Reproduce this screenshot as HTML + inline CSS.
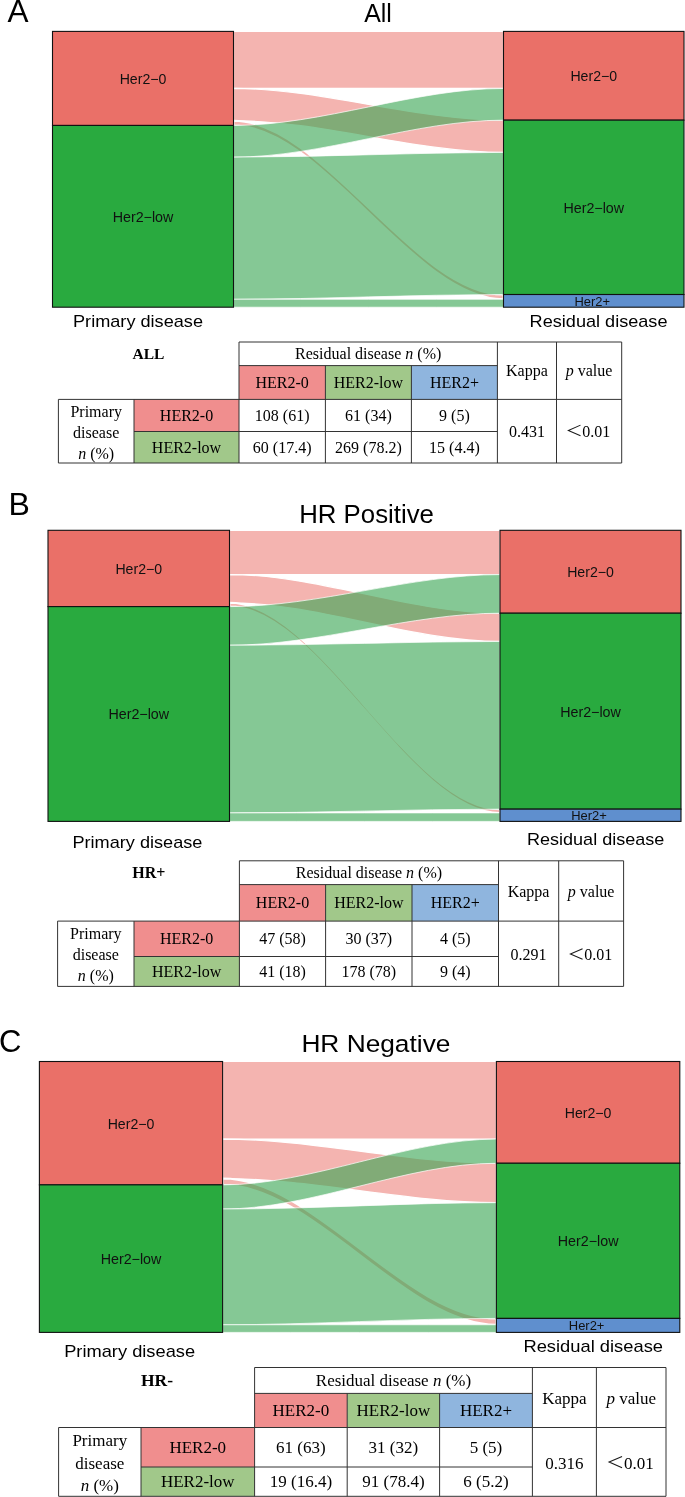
<!DOCTYPE html>
<html><head><meta charset="utf-8"><style>
html,body{margin:0;padding:0;background:#fff;}
body{width:685px;height:1497px;overflow:hidden;}
svg{display:block;will-change:transform;}
</style></head><body>
<svg width="685" height="1497" viewBox="0 0 685 1497">
<rect width="685" height="1497" fill="#fff"/>
<text x="7.5" y="22.2" font-family="Liberation Sans" font-size="31.5" text-anchor="start" font-weight="normal" font-style="normal" fill="#000">A</text>
<text x="378" y="21.6" font-family="Liberation Sans" font-size="25" text-anchor="middle" font-weight="normal" font-style="normal" fill="#000" textLength="27.7" lengthAdjust="spacingAndGlyphs">All</text>
<path d="M233.50,31.40 C322.60,31.40 414.40,31.40 503.50,31.40 L503.50,88.46 C414.40,88.46 322.60,88.46 233.50,88.46 Z" fill="#EA7068" fill-opacity="0.52" stroke="#fff" stroke-width="1.2"/>
<path d="M233.50,88.46 C322.60,88.46 414.40,120.16 503.50,120.16 L503.50,152.39 C414.40,152.39 322.60,120.69 233.50,120.69 Z" fill="#EA7068" fill-opacity="0.52" stroke="#fff" stroke-width="1.2"/>
<path d="M233.50,120.69 C322.60,120.69 414.40,294.52 503.50,294.52 L503.50,299.27 C414.40,299.27 322.60,125.45 233.50,125.45 Z" fill="#EA7068" fill-opacity="0.52" stroke="#fff" stroke-width="2.0"/>
<path d="M233.50,125.45 C322.60,125.45 414.40,88.46 503.50,88.46 L503.50,120.16 C414.40,120.16 322.60,157.15 233.50,157.15 Z" fill="#3AA754" fill-opacity="0.62" stroke="#fff" stroke-width="0.7"/>
<path d="M233.50,157.15 C322.60,157.15 414.40,152.39 503.50,152.39 L503.50,294.52 C414.40,294.52 322.60,299.27 233.50,299.27 Z" fill="#3AA754" fill-opacity="0.62" stroke="#fff" stroke-width="0.7"/>
<path d="M233.50,299.27 C322.60,299.27 414.40,299.27 503.50,299.27 L503.50,307.20 C414.40,307.20 322.60,307.20 233.50,307.20 Z" fill="#3AA754" fill-opacity="0.62" stroke="#fff" stroke-width="0.7"/>
<rect x="52.5" y="31.40" width="181.0" height="94.05" fill="#EA7068" stroke="#111" stroke-width="1.1"/>
<rect x="52.5" y="125.45" width="181.0" height="181.75" fill="#29AA3F" stroke="#111" stroke-width="1.1"/>
<rect x="503.5" y="31.40" width="180.5" height="88.76" fill="#EA7068" stroke="#111" stroke-width="1.1"/>
<rect x="503.5" y="120.16" width="180.5" height="174.36" fill="#29AA3F" stroke="#111" stroke-width="1.1"/>
<rect x="503.5" y="294.52" width="180.5" height="12.68" fill="#5F8FCE" stroke="#111" stroke-width="1.1"/>
<text x="143.0" y="83.8633716475096" font-family="Liberation Sans" font-size="14" text-anchor="middle" font-weight="normal" font-style="normal" fill="#111" textLength="46.7" lengthAdjust="spacingAndGlyphs">Her2−0</text>
<text x="143.0" y="221.7633716475096" font-family="Liberation Sans" font-size="14" text-anchor="middle" font-weight="normal" font-style="normal" fill="#111" textLength="60.7" lengthAdjust="spacingAndGlyphs">Her2−low</text>
<text x="593.75" y="81.22160919540231" font-family="Liberation Sans" font-size="14" text-anchor="middle" font-weight="normal" font-style="normal" fill="#111" textLength="46.7" lengthAdjust="spacingAndGlyphs">Her2−0</text>
<text x="593.75" y="212.78137931034482" font-family="Liberation Sans" font-size="14" text-anchor="middle" font-weight="normal" font-style="normal" fill="#111" textLength="60.7" lengthAdjust="spacingAndGlyphs">Her2−low</text>
<text x="592.25" y="305.8397701149425" font-family="Liberation Sans" font-size="13" text-anchor="middle" font-weight="normal" font-style="normal" fill="#111" textLength="35.6" lengthAdjust="spacingAndGlyphs">Her2+</text>
<text x="73" y="326.6" font-family="Liberation Sans" font-size="17" text-anchor="start" font-weight="normal" font-style="normal" fill="#000" textLength="130" lengthAdjust="spacingAndGlyphs">Primary disease</text>
<text x="529.6" y="326.5" font-family="Liberation Sans" font-size="17" text-anchor="start" font-weight="normal" font-style="normal" fill="#000" textLength="137.9" lengthAdjust="spacingAndGlyphs">Residual disease</text>
<rect x="239" y="365.6" width="86.39999999999998" height="33.799999999999955" fill="#F08E8E"/>
<rect x="325.4" y="365.6" width="86.0" height="33.799999999999955" fill="#A1C88A"/>
<rect x="411.4" y="365.6" width="86.0" height="33.799999999999955" fill="#8FB5DE"/>
<rect x="134" y="399.4" width="105" height="32.10000000000002" fill="#F08E8E"/>
<rect x="134" y="431.5" width="105" height="31.5" fill="#A1C88A"/>
<line x1="239" y1="342" x2="621.7" y2="342" stroke="#333" stroke-width="1"/>
<line x1="239" y1="365.6" x2="497.4" y2="365.6" stroke="#333" stroke-width="1"/>
<line x1="58.4" y1="399.4" x2="621.7" y2="399.4" stroke="#333" stroke-width="1"/>
<line x1="134" y1="431.5" x2="497.4" y2="431.5" stroke="#333" stroke-width="1"/>
<line x1="58.4" y1="463" x2="621.7" y2="463" stroke="#333" stroke-width="1"/>
<line x1="58.4" y1="399.4" x2="58.4" y2="463" stroke="#333" stroke-width="1"/>
<line x1="134" y1="399.4" x2="134" y2="463" stroke="#333" stroke-width="1"/>
<line x1="239" y1="342" x2="239" y2="463" stroke="#333" stroke-width="1"/>
<line x1="325.4" y1="365.6" x2="325.4" y2="463" stroke="#333" stroke-width="1"/>
<line x1="411.4" y1="365.6" x2="411.4" y2="463" stroke="#333" stroke-width="1"/>
<line x1="497.4" y1="342" x2="497.4" y2="463" stroke="#333" stroke-width="1"/>
<line x1="556.5" y1="342" x2="556.5" y2="463" stroke="#333" stroke-width="1"/>
<line x1="621.7" y1="342" x2="621.7" y2="463" stroke="#333" stroke-width="1"/>
<text x="148.5" y="359.1" font-family="Liberation Serif" font-size="15.5" text-anchor="middle" font-weight="bold" font-style="normal" fill="#000">ALL</text>
<text x="368.2" y="359.24" font-family="Liberation Serif" font-size="16" text-anchor="middle">Residual disease <tspan font-style="italic">n</tspan> (%)</text>
<text x="282.2" y="387.94" font-family="Liberation Serif" font-size="16" text-anchor="middle" font-weight="normal" font-style="normal" fill="#000">HER2-0</text>
<text x="368.4" y="387.94" font-family="Liberation Serif" font-size="16" text-anchor="middle" font-weight="normal" font-style="normal" fill="#000">HER2-low</text>
<text x="454.4" y="387.94" font-family="Liberation Serif" font-size="16" text-anchor="middle" font-weight="normal" font-style="normal" fill="#000">HER2+</text>
<text x="526.95" y="376.14" font-family="Liberation Serif" font-size="16" text-anchor="middle" font-weight="normal" font-style="normal" fill="#000">Kappa</text>
<text x="589.1" y="376.14" font-family="Liberation Serif" font-size="16" text-anchor="middle"><tspan font-style="italic">p</tspan> value</text>
<text x="96.2" y="416.68" font-family="Liberation Serif" font-size="16" text-anchor="middle" font-weight="normal" font-style="normal" fill="#000">Primary</text>
<text x="96.2" y="437.64" font-family="Liberation Serif" font-size="16" text-anchor="middle" font-weight="normal" font-style="normal" fill="#000">disease</text>
<text x="96.2" y="458.60" font-family="Liberation Serif" font-size="16" text-anchor="middle"><tspan font-style="italic">n</tspan> (%)</text>
<text x="186.5" y="420.89" font-family="Liberation Serif" font-size="16" text-anchor="middle" font-weight="normal" font-style="normal" fill="#000">HER2-0</text>
<text x="282.2" y="420.89" font-family="Liberation Serif" font-size="16" text-anchor="middle" font-weight="normal" font-style="normal" fill="#000">108 (61)</text>
<text x="368.4" y="420.89" font-family="Liberation Serif" font-size="16" text-anchor="middle" font-weight="normal" font-style="normal" fill="#000">61 (34)</text>
<text x="454.4" y="420.89" font-family="Liberation Serif" font-size="16" text-anchor="middle" font-weight="normal" font-style="normal" fill="#000">9 (5)</text>
<text x="186.5" y="452.69" font-family="Liberation Serif" font-size="16" text-anchor="middle" font-weight="normal" font-style="normal" fill="#000">HER2-low</text>
<text x="282.2" y="452.69" font-family="Liberation Serif" font-size="16" text-anchor="middle" font-weight="normal" font-style="normal" fill="#000">60 (17.4)</text>
<text x="368.4" y="452.69" font-family="Liberation Serif" font-size="16" text-anchor="middle" font-weight="normal" font-style="normal" fill="#000">269 (78.2)</text>
<text x="454.4" y="452.69" font-family="Liberation Serif" font-size="16" text-anchor="middle" font-weight="normal" font-style="normal" fill="#000">15 (4.4)</text>
<text x="526.95" y="436.64" font-family="Liberation Serif" font-size="16" text-anchor="middle" font-weight="normal" font-style="normal" fill="#000">0.431</text>
<polyline points="580.51,425.12 568.35,430.40 580.51,435.68" fill="none" stroke="#1a1a1a" stroke-width="1.04" stroke-linejoin="miter"/>
<text x="582.25" y="436.64" font-family="Liberation Serif" font-size="16" text-anchor="start" font-weight="normal" font-style="normal" fill="#000">0.01</text>
<text x="8.4" y="514.9" font-family="Liberation Sans" font-size="32" text-anchor="start" font-weight="normal" font-style="normal" fill="#000">B</text>
<text x="299.2" y="522.6" font-family="Liberation Sans" font-size="25.3" text-anchor="start" font-weight="normal" font-style="normal" fill="#000" textLength="134.8" lengthAdjust="spacingAndGlyphs">HR Positive</text>
<path d="M229.50,530.30 C318.76,530.30 410.74,530.30 500.00,530.30 L500.00,574.58 C410.74,574.58 318.76,574.58 229.50,574.58 Z" fill="#EA7068" fill-opacity="0.52" stroke="#fff" stroke-width="1.2"/>
<path d="M229.50,574.58 C318.76,574.58 410.74,613.20 500.00,613.20 L500.00,641.46 C410.74,641.46 318.76,602.84 229.50,602.84 Z" fill="#EA7068" fill-opacity="0.52" stroke="#fff" stroke-width="1.2"/>
<path d="M229.50,602.84 C318.76,602.84 410.74,809.15 500.00,809.15 L500.00,812.92 C410.74,812.92 318.76,606.61 229.50,606.61 Z" fill="#EA7068" fill-opacity="0.52" stroke="#fff" stroke-width="2.0"/>
<path d="M229.50,606.61 C318.76,606.61 410.74,574.58 500.00,574.58 L500.00,613.20 C410.74,613.20 318.76,645.23 229.50,645.23 Z" fill="#3AA754" fill-opacity="0.62" stroke="#fff" stroke-width="0.7"/>
<path d="M229.50,645.23 C318.76,645.23 410.74,641.46 500.00,641.46 L500.00,809.15 C410.74,809.15 318.76,812.92 229.50,812.92 Z" fill="#3AA754" fill-opacity="0.62" stroke="#fff" stroke-width="0.7"/>
<path d="M229.50,812.92 C318.76,812.92 410.74,812.92 500.00,812.92 L500.00,821.40 C410.74,821.40 318.76,821.40 229.50,821.40 Z" fill="#3AA754" fill-opacity="0.62" stroke="#fff" stroke-width="0.7"/>
<rect x="48" y="530.30" width="181.5" height="76.31" fill="#EA7068" stroke="#111" stroke-width="1.1"/>
<rect x="48" y="606.61" width="181.5" height="214.79" fill="#29AA3F" stroke="#111" stroke-width="1.1"/>
<rect x="500" y="530.30" width="181" height="82.90" fill="#EA7068" stroke="#111" stroke-width="1.1"/>
<rect x="500" y="613.20" width="181" height="195.95" fill="#29AA3F" stroke="#111" stroke-width="1.1"/>
<rect x="500" y="809.15" width="181" height="12.25" fill="#5F8FCE" stroke="#111" stroke-width="1.1"/>
<text x="138.75" y="573.8938834951456" font-family="Liberation Sans" font-size="14" text-anchor="middle" font-weight="normal" font-style="normal" fill="#111" textLength="46.7" lengthAdjust="spacingAndGlyphs">Her2−0</text>
<text x="138.75" y="719.4438834951455" font-family="Liberation Sans" font-size="14" text-anchor="middle" font-weight="normal" font-style="normal" fill="#111" textLength="60.7" lengthAdjust="spacingAndGlyphs">Her2−low</text>
<text x="590.5" y="577.1911326860841" font-family="Liberation Sans" font-size="14" text-anchor="middle" font-weight="normal" font-style="normal" fill="#111" textLength="46.7" lengthAdjust="spacingAndGlyphs">Her2−0</text>
<text x="590.5" y="716.6176699029124" font-family="Liberation Sans" font-size="14" text-anchor="middle" font-weight="normal" font-style="normal" fill="#111" textLength="60.7" lengthAdjust="spacingAndGlyphs">Her2−low</text>
<text x="589.0" y="820.2565372168283" font-family="Liberation Sans" font-size="13" text-anchor="middle" font-weight="normal" font-style="normal" fill="#111" textLength="35.6" lengthAdjust="spacingAndGlyphs">Her2+</text>
<text x="72.4" y="848.4" font-family="Liberation Sans" font-size="17" text-anchor="start" font-weight="normal" font-style="normal" fill="#000" textLength="130" lengthAdjust="spacingAndGlyphs">Primary disease</text>
<text x="527" y="845.4" font-family="Liberation Sans" font-size="17" text-anchor="start" font-weight="normal" font-style="normal" fill="#000" textLength="137.3" lengthAdjust="spacingAndGlyphs">Residual disease</text>
<rect x="239.4" y="884.6" width="86.20000000000002" height="36.5" fill="#F08E8E"/>
<rect x="325.6" y="884.6" width="86.39999999999998" height="36.5" fill="#A1C88A"/>
<rect x="412" y="884.6" width="86.5" height="36.5" fill="#8FB5DE"/>
<rect x="134" y="921.1" width="105.4" height="35.39999999999998" fill="#F08E8E"/>
<rect x="134" y="956.5" width="105.4" height="29.899999999999977" fill="#A1C88A"/>
<line x1="239.4" y1="860.8" x2="623.6" y2="860.8" stroke="#333" stroke-width="1"/>
<line x1="239.4" y1="884.6" x2="498.5" y2="884.6" stroke="#333" stroke-width="1"/>
<line x1="57.6" y1="921.1" x2="623.6" y2="921.1" stroke="#333" stroke-width="1"/>
<line x1="134" y1="956.5" x2="498.5" y2="956.5" stroke="#333" stroke-width="1"/>
<line x1="57.6" y1="986.4" x2="623.6" y2="986.4" stroke="#333" stroke-width="1"/>
<line x1="57.6" y1="921.1" x2="57.6" y2="986.4" stroke="#333" stroke-width="1"/>
<line x1="134" y1="921.1" x2="134" y2="986.4" stroke="#333" stroke-width="1"/>
<line x1="239.4" y1="860.8" x2="239.4" y2="986.4" stroke="#333" stroke-width="1"/>
<line x1="325.6" y1="884.6" x2="325.6" y2="986.4" stroke="#333" stroke-width="1"/>
<line x1="412" y1="884.6" x2="412" y2="986.4" stroke="#333" stroke-width="1"/>
<line x1="498.5" y1="860.8" x2="498.5" y2="986.4" stroke="#333" stroke-width="1"/>
<line x1="558.7" y1="860.8" x2="558.7" y2="986.4" stroke="#333" stroke-width="1"/>
<line x1="623.6" y1="860.8" x2="623.6" y2="986.4" stroke="#333" stroke-width="1"/>
<text x="148.9" y="878" font-family="Liberation Serif" font-size="16" text-anchor="middle" font-weight="bold" font-style="normal" fill="#000">HR+</text>
<text x="368.95" y="878.14" font-family="Liberation Serif" font-size="16" text-anchor="middle">Residual disease <tspan font-style="italic">n</tspan> (%)</text>
<text x="282.5" y="908.2900000000001" font-family="Liberation Serif" font-size="16" text-anchor="middle" font-weight="normal" font-style="normal" fill="#000">HER2-0</text>
<text x="368.8" y="908.2900000000001" font-family="Liberation Serif" font-size="16" text-anchor="middle" font-weight="normal" font-style="normal" fill="#000">HER2-low</text>
<text x="455.25" y="908.2900000000001" font-family="Liberation Serif" font-size="16" text-anchor="middle" font-weight="normal" font-style="normal" fill="#000">HER2+</text>
<text x="528.6" y="897.3900000000001" font-family="Liberation Serif" font-size="16" text-anchor="middle" font-weight="normal" font-style="normal" fill="#000">Kappa</text>
<text x="591.1500000000001" y="897.39" font-family="Liberation Serif" font-size="16" text-anchor="middle"><tspan font-style="italic">p</tspan> value</text>
<text x="95.8" y="939.23" font-family="Liberation Serif" font-size="16" text-anchor="middle" font-weight="normal" font-style="normal" fill="#000">Primary</text>
<text x="95.8" y="960.19" font-family="Liberation Serif" font-size="16" text-anchor="middle" font-weight="normal" font-style="normal" fill="#000">disease</text>
<text x="95.8" y="981.15" font-family="Liberation Serif" font-size="16" text-anchor="middle"><tspan font-style="italic">n</tspan> (%)</text>
<text x="186.7" y="944.24" font-family="Liberation Serif" font-size="16" text-anchor="middle" font-weight="normal" font-style="normal" fill="#000">HER2-0</text>
<text x="282.5" y="944.24" font-family="Liberation Serif" font-size="16" text-anchor="middle" font-weight="normal" font-style="normal" fill="#000">47 (58)</text>
<text x="368.8" y="944.24" font-family="Liberation Serif" font-size="16" text-anchor="middle" font-weight="normal" font-style="normal" fill="#000">30 (37)</text>
<text x="455.25" y="944.24" font-family="Liberation Serif" font-size="16" text-anchor="middle" font-weight="normal" font-style="normal" fill="#000">4 (5)</text>
<text x="186.7" y="976.8900000000001" font-family="Liberation Serif" font-size="16" text-anchor="middle" font-weight="normal" font-style="normal" fill="#000">HER2-low</text>
<text x="282.5" y="976.8900000000001" font-family="Liberation Serif" font-size="16" text-anchor="middle" font-weight="normal" font-style="normal" fill="#000">41 (18)</text>
<text x="368.8" y="976.8900000000001" font-family="Liberation Serif" font-size="16" text-anchor="middle" font-weight="normal" font-style="normal" fill="#000">178 (78)</text>
<text x="455.25" y="976.8900000000001" font-family="Liberation Serif" font-size="16" text-anchor="middle" font-weight="normal" font-style="normal" fill="#000">9 (4)</text>
<text x="528.6" y="960.19" font-family="Liberation Serif" font-size="16" text-anchor="middle" font-weight="normal" font-style="normal" fill="#000">0.291</text>
<polyline points="582.56,948.67 570.40,953.95 582.56,959.23" fill="none" stroke="#1a1a1a" stroke-width="1.04" stroke-linejoin="miter"/>
<text x="584.3000000000001" y="960.19" font-family="Liberation Serif" font-size="16" text-anchor="start" font-weight="normal" font-style="normal" fill="#000">0.01</text>
<text x="-1.1" y="1052.2" font-family="Liberation Sans" font-size="31" text-anchor="start" font-weight="normal" font-style="normal" fill="#000">C</text>
<text x="301.4" y="1052" font-family="Liberation Sans" font-size="24.5" text-anchor="start" font-weight="normal" font-style="normal" fill="#000" textLength="149" lengthAdjust="spacingAndGlyphs">HR Negative</text>
<path d="M222.60,1061.50 C312.95,1061.50 406.05,1061.50 496.40,1061.50 L496.40,1139.08 C406.05,1139.08 312.95,1139.08 222.60,1139.08 Z" fill="#EA7068" fill-opacity="0.52" stroke="#fff" stroke-width="1.2"/>
<path d="M222.60,1139.08 C312.95,1139.08 406.05,1163.25 496.40,1163.25 L496.40,1202.67 C406.05,1202.67 312.95,1178.51 222.60,1178.51 Z" fill="#EA7068" fill-opacity="0.52" stroke="#fff" stroke-width="1.2"/>
<path d="M222.60,1178.51 C312.95,1178.51 406.05,1318.41 496.40,1318.41 L496.40,1324.77 C406.05,1324.77 312.95,1184.87 222.60,1184.87 Z" fill="#EA7068" fill-opacity="0.52" stroke="#fff" stroke-width="2.0"/>
<path d="M222.60,1184.87 C312.95,1184.87 406.05,1139.08 496.40,1139.08 L496.40,1163.25 C406.05,1163.25 312.95,1209.03 222.60,1209.03 Z" fill="#3AA754" fill-opacity="0.62" stroke="#fff" stroke-width="0.7"/>
<path d="M222.60,1209.03 C312.95,1209.03 406.05,1202.67 496.40,1202.67 L496.40,1318.41 C406.05,1318.41 312.95,1324.77 222.60,1324.77 Z" fill="#3AA754" fill-opacity="0.62" stroke="#fff" stroke-width="0.7"/>
<path d="M222.60,1324.77 C312.95,1324.77 406.05,1324.77 496.40,1324.77 L496.40,1332.40 C406.05,1332.40 312.95,1332.40 222.60,1332.40 Z" fill="#3AA754" fill-opacity="0.62" stroke="#fff" stroke-width="0.7"/>
<rect x="39.4" y="1061.50" width="183.2" height="123.37" fill="#EA7068" stroke="#111" stroke-width="1.1"/>
<rect x="39.4" y="1184.87" width="183.2" height="147.53" fill="#29AA3F" stroke="#111" stroke-width="1.1"/>
<rect x="496.4" y="1061.50" width="183.39999999999998" height="101.75" fill="#EA7068" stroke="#111" stroke-width="1.1"/>
<rect x="496.4" y="1163.25" width="183.39999999999998" height="155.16" fill="#29AA3F" stroke="#111" stroke-width="1.1"/>
<rect x="496.4" y="1318.41" width="183.39999999999998" height="13.99" fill="#5F8FCE" stroke="#111" stroke-width="1.1"/>
<text x="131.0" y="1128.6238028169014" font-family="Liberation Sans" font-size="14" text-anchor="middle" font-weight="normal" font-style="normal" fill="#111" textLength="46.7" lengthAdjust="spacingAndGlyphs">Her2−0</text>
<text x="131.0" y="1264.0738028169017" font-family="Liberation Sans" font-size="14" text-anchor="middle" font-weight="normal" font-style="normal" fill="#111" textLength="60.7" lengthAdjust="spacingAndGlyphs">Her2−low</text>
<text x="588.0999999999999" y="1117.8132394366198" font-family="Liberation Sans" font-size="14" text-anchor="middle" font-weight="normal" font-style="normal" fill="#111" textLength="46.7" lengthAdjust="spacingAndGlyphs">Her2−0</text>
<text x="588.0999999999999" y="1246.2681690140846" font-family="Liberation Sans" font-size="14" text-anchor="middle" font-weight="normal" font-style="normal" fill="#111" textLength="60.7" lengthAdjust="spacingAndGlyphs">Her2−low</text>
<text x="586.5999999999999" y="1330.384929577465" font-family="Liberation Sans" font-size="13" text-anchor="middle" font-weight="normal" font-style="normal" fill="#111" textLength="35.6" lengthAdjust="spacingAndGlyphs">Her2+</text>
<text x="64.2" y="1356.7" font-family="Liberation Sans" font-size="17" text-anchor="start" font-weight="normal" font-style="normal" fill="#000" textLength="130.9" lengthAdjust="spacingAndGlyphs">Primary disease</text>
<text x="523.4" y="1351.8" font-family="Liberation Sans" font-size="17" text-anchor="start" font-weight="normal" font-style="normal" fill="#000" textLength="139.6" lengthAdjust="spacingAndGlyphs">Residual disease</text>
<rect x="254.6" y="1393.4" width="92.6" height="34.09999999999991" fill="#F08E8E"/>
<rect x="347.2" y="1393.4" width="92.40000000000003" height="34.09999999999991" fill="#A1C88A"/>
<rect x="439.6" y="1393.4" width="92.79999999999995" height="34.09999999999991" fill="#8FB5DE"/>
<rect x="141" y="1427.5" width="113.6" height="39.5" fill="#F08E8E"/>
<rect x="141" y="1467" width="113.6" height="29.299999999999955" fill="#A1C88A"/>
<line x1="254.6" y1="1367.5" x2="666" y2="1367.5" stroke="#333" stroke-width="1"/>
<line x1="254.6" y1="1393.4" x2="532.4" y2="1393.4" stroke="#333" stroke-width="1"/>
<line x1="58.6" y1="1427.5" x2="666" y2="1427.5" stroke="#333" stroke-width="1"/>
<line x1="141" y1="1467" x2="532.4" y2="1467" stroke="#333" stroke-width="1"/>
<line x1="58.6" y1="1496.3" x2="666" y2="1496.3" stroke="#333" stroke-width="1"/>
<line x1="58.6" y1="1427.5" x2="58.6" y2="1496.3" stroke="#333" stroke-width="1"/>
<line x1="141" y1="1427.5" x2="141" y2="1496.3" stroke="#333" stroke-width="1"/>
<line x1="254.6" y1="1367.5" x2="254.6" y2="1496.3" stroke="#333" stroke-width="1"/>
<line x1="347.2" y1="1393.4" x2="347.2" y2="1496.3" stroke="#333" stroke-width="1"/>
<line x1="439.6" y1="1393.4" x2="439.6" y2="1496.3" stroke="#333" stroke-width="1"/>
<line x1="532.4" y1="1367.5" x2="532.4" y2="1496.3" stroke="#333" stroke-width="1"/>
<line x1="596.4" y1="1367.5" x2="596.4" y2="1496.3" stroke="#333" stroke-width="1"/>
<line x1="666" y1="1367.5" x2="666" y2="1496.3" stroke="#333" stroke-width="1"/>
<text x="157" y="1385.8" font-family="Liberation Serif" font-size="17.5" text-anchor="middle" font-weight="bold" font-style="normal" fill="#000">HR-</text>
<text x="393.5" y="1386.23" font-family="Liberation Serif" font-size="17" text-anchor="middle">Residual disease <tspan font-style="italic">n</tspan> (%)</text>
<text x="300.9" y="1416.23" font-family="Liberation Serif" font-size="17" text-anchor="middle" font-weight="normal" font-style="normal" fill="#000">HER2-0</text>
<text x="393.4" y="1416.23" font-family="Liberation Serif" font-size="17" text-anchor="middle" font-weight="normal" font-style="normal" fill="#000">HER2-low</text>
<text x="486.0" y="1416.23" font-family="Liberation Serif" font-size="17" text-anchor="middle" font-weight="normal" font-style="normal" fill="#000">HER2+</text>
<text x="564.4" y="1404.28" font-family="Liberation Serif" font-size="17" text-anchor="middle" font-weight="normal" font-style="normal" fill="#000">Kappa</text>
<text x="631.2" y="1404.28" font-family="Liberation Serif" font-size="17" text-anchor="middle"><tspan font-style="italic">p</tspan> value</text>
<text x="99.8" y="1446.41" font-family="Liberation Serif" font-size="17" text-anchor="middle" font-weight="normal" font-style="normal" fill="#000">Primary</text>
<text x="99.8" y="1468.68" font-family="Liberation Serif" font-size="17" text-anchor="middle" font-weight="normal" font-style="normal" fill="#000">disease</text>
<text x="99.8" y="1490.95" font-family="Liberation Serif" font-size="17" text-anchor="middle"><tspan font-style="italic">n</tspan> (%)</text>
<text x="197.8" y="1453.03" font-family="Liberation Serif" font-size="17" text-anchor="middle" font-weight="normal" font-style="normal" fill="#000">HER2-0</text>
<text x="300.9" y="1453.03" font-family="Liberation Serif" font-size="17" text-anchor="middle" font-weight="normal" font-style="normal" fill="#000">61 (63)</text>
<text x="393.4" y="1453.03" font-family="Liberation Serif" font-size="17" text-anchor="middle" font-weight="normal" font-style="normal" fill="#000">31 (32)</text>
<text x="486.0" y="1453.03" font-family="Liberation Serif" font-size="17" text-anchor="middle" font-weight="normal" font-style="normal" fill="#000">5 (5)</text>
<text x="197.8" y="1487.43" font-family="Liberation Serif" font-size="17" text-anchor="middle" font-weight="normal" font-style="normal" fill="#000">HER2-low</text>
<text x="300.9" y="1487.43" font-family="Liberation Serif" font-size="17" text-anchor="middle" font-weight="normal" font-style="normal" fill="#000">19 (16.4)</text>
<text x="393.4" y="1487.43" font-family="Liberation Serif" font-size="17" text-anchor="middle" font-weight="normal" font-style="normal" fill="#000">91 (78.4)</text>
<text x="486.0" y="1487.43" font-family="Liberation Serif" font-size="17" text-anchor="middle" font-weight="normal" font-style="normal" fill="#000">6 (5.2)</text>
<text x="564.4" y="1468.68" font-family="Liberation Serif" font-size="17" text-anchor="middle" font-weight="normal" font-style="normal" fill="#000">0.316</text>
<polyline points="622.06,1456.44 609.11,1462.05 622.06,1467.66" fill="none" stroke="#1a1a1a" stroke-width="1.10" stroke-linejoin="miter"/>
<text x="623.9375000000001" y="1468.68" font-family="Liberation Serif" font-size="17" text-anchor="start" font-weight="normal" font-style="normal" fill="#000">0.01</text>
</svg>
</body></html>
